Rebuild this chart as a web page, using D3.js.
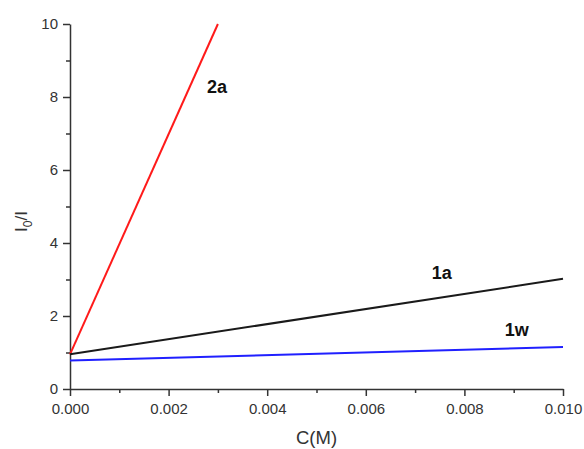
<!DOCTYPE html>
<html>
<head>
<meta charset="utf-8">
<script src="https://cdn.jsdelivr.net/npm/d3@7"></script>
<style>
  body { margin: 0; background: #fff; }
  text { font-family: "Liberation Sans", Arial, sans-serif; }
</style>
</head>
<body>
<div id="chart"></div>
<script>
// Data (endpoints of each fitted line)
const conc2a = [0, 0.003];
const ratio2a = [0.95, 10];
const conc1a = [0, 0.01];
const ratio1a = [0.95, 3.02];
const conc1w = [0, 0.01];
const ratio1w = [0.78, 1.15];

const xTicks = [0, 0.002, 0.004, 0.006, 0.008, 0.01];
const yTicks = [0, 2, 4, 6, 8, 10];

let margin = { top: 24, right: 21, bottom: 60, left: 70 },
  width = 584 - margin.left - margin.right,
  height = 449 - margin.top - margin.bottom;

let svg = d3
  .select("#chart")
  .append("svg")
  .attr("width", 584)
  .attr("height", 449)
  .append("g")
  .attr("transform", `translate(${margin.left}, ${margin.top})`);

let x = d3.scaleLinear().domain([0, 0.01]).range([0, width]);
let y = d3.scaleLinear().domain([0, 10]).range([height, 0]);

// Minor ticks
svg
  .append("g")
  .attr("transform", `translate(0,${height})`)
  .call(d3.axisBottom(x).tickValues(d3.range(0.001, 0.01, 0.002)).tickSize(4).tickFormat(""))
  .call((g) => g.select(".domain").remove());
svg
  .append("g")
  .call(d3.axisLeft(y).tickValues([1, 3, 5, 7, 9]).tickSize(4).tickFormat(""))
  .call((g) => g.select(".domain").remove());

// X axis
let xAxis = svg
  .append("g")
  .attr("transform", `translate(0,${height})`)
  .call(d3.axisBottom(x).tickValues(xTicks).tickSize(7).tickSizeOuter(0).tickPadding(7).tickFormat(d3.format(".3f")));
xAxis.selectAll(".tick text").style("font-size", "15px").attr("fill", "#333");

// Y axis
let yAxis = svg
  .append("g")
  .call(d3.axisLeft(y).tickValues(yTicks).tickSize(7).tickSizeOuter(0).tickPadding(5));
yAxis.selectAll(".tick text").style("font-size", "15px").attr("fill", "#333");

svg.selectAll(".domain, .tick line").attr("stroke", "#333").attr("stroke-width", 1.5);

let line = d3
  .line()
  .x((d) => x(d[0]))
  .y((d) => y(d[1]));

let series = [
  { name: "2a", cx: conc2a, cy: ratio2a, color: "#ff1a1a" },
  { name: "1a", cx: conc1a, cy: ratio1a, color: "#1a1a1a" },
  { name: "1w", cx: conc1w, cy: ratio1w, color: "#2020ff" },
];

svg
  .selectAll(".line")
  .data(series)
  .enter()
  .append("path")
  .attr("class", "line")
  .attr("d", (d) => line(d.cx.map((v, i) => [v, d.cy[i]])))
  .attr("fill", "none")
  .attr("stroke", (d) => d.color)
  .attr("stroke-width", 2);

// Series labels
let labels = [
  { text: "2a", cx: 0.00278, cy: 8.12 },
  { text: "1a", cx: 0.00734, cy: 3.02 },
  { text: "1w", cx: 0.00882, cy: 1.46 },
];
svg
  .selectAll(".lbl")
  .data(labels)
  .enter()
  .append("text")
  .attr("x", (d) => x(d.cx))
  .attr("y", (d) => y(d.cy))
  .style("font-size", "18px")
  .style("font-weight", "bold")
  .attr("fill", "#111")
  .text((d) => d.text);

// Axis titles
svg
  .append("text")
  .attr("x", width / 2)
  .attr("y", height + 55)
  .style("text-anchor", "middle")
  .style("font-size", "18.5px")
  .attr("fill", "#333")
  .text("C(M)");

let yt = svg
  .append("text")
  .attr("transform", `translate(-43,${height / 2 + 15}) rotate(-90)`)
  .style("text-anchor", "middle")
  .style("font-size", "17px")
  .attr("fill", "#333");
yt.append("tspan").text("I");
yt.append("tspan").attr("dy", 5).style("font-size", "12px").text("0");
yt.append("tspan").attr("dy", -5).text("/I");
</script>
</body>
</html>
